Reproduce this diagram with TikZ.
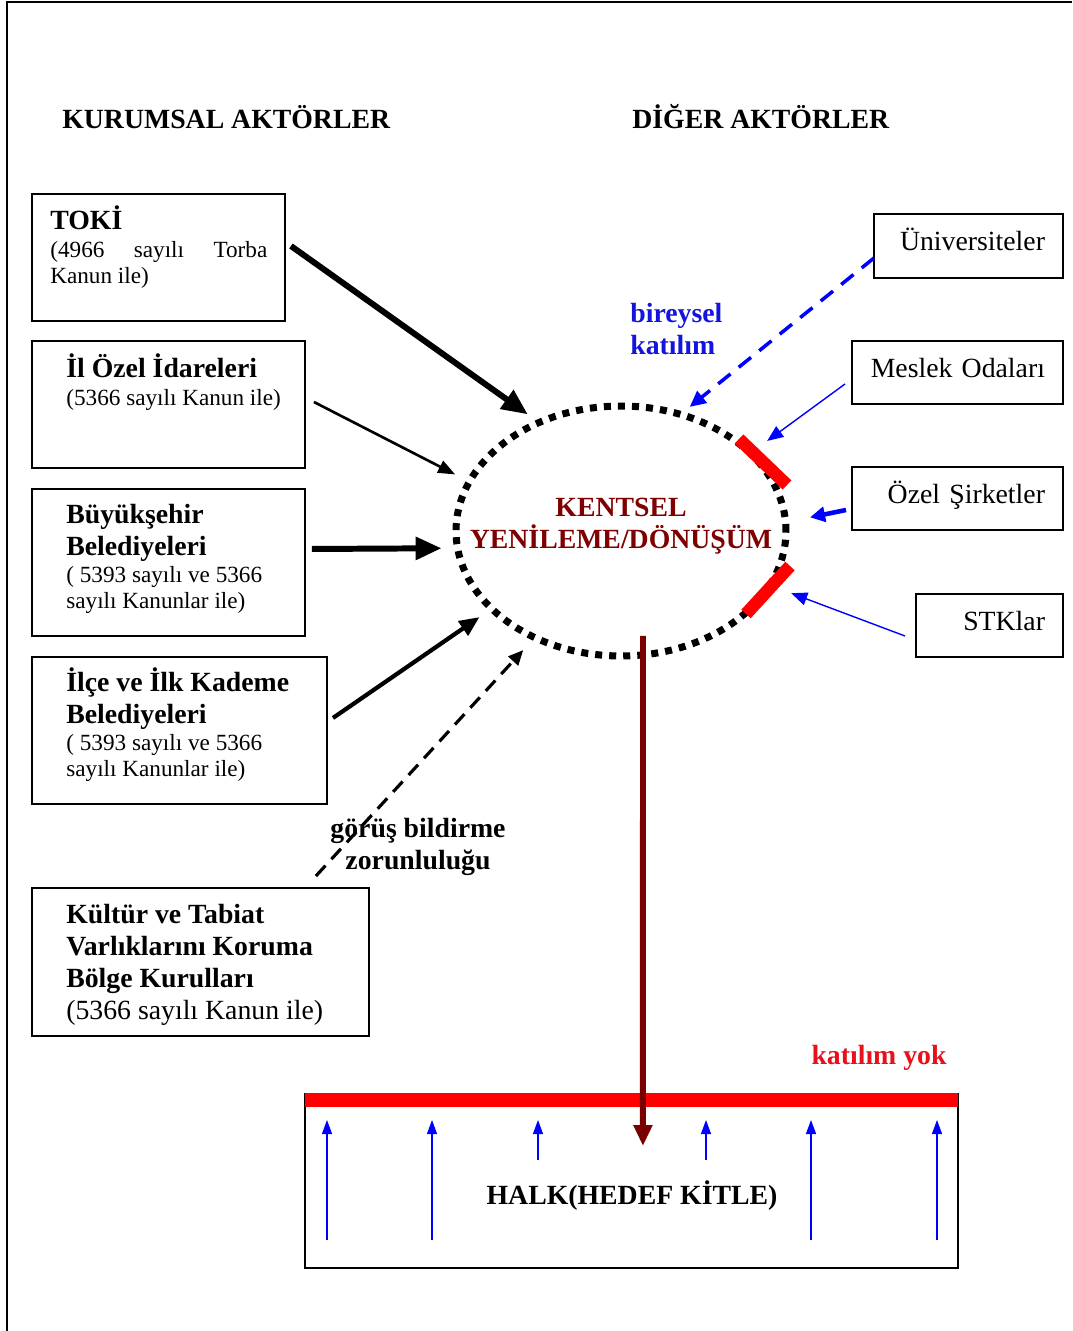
\documentclass[tikz,border=0pt]{standalone}
\usepackage{fontspec}
\setmainfont{Liberation Serif}
\usetikzlibrary{arrows.meta,calc,positioning,shapes.geometric}
\definecolor{kentred}{HTML}{7F0000}
\definecolor{arrowred}{HTML}{7A0000}
\definecolor{halkred}{HTML}{FF0000}
\definecolor{yokred}{HTML}{E8101A}
\definecolor{actorblue}{HTML}{0000FF}
\definecolor{labelblue}{HTML}{1414DC}
\tikzset{
  frameline/.style={line width=1.2pt,black},
  actorbox/.style={draw,line width=1.4pt,anchor=north west,inner sep=0pt,outer sep=0pt},
  sidebox/.style={draw,line width=1.4pt,anchor=north west,align=right,inner xsep=0.36cm,inner ysep=0pt,outer sep=0pt,text height=0.4cm,text depth=0.2cm,font=\fontsize{15.8}{18}\selectfont},
  heading/.style={font=\bfseries\fontsize{15.8}{18.1}\selectfont,inner sep=0pt},
  boxtitle/.style={font=\bfseries\fontsize{15.8}{18.1}\selectfont,align=left,anchor=base west,inner sep=0pt},
  boxbody/.style={font=\fontsize{13.2}{14.7}\selectfont,align=left,anchor=base west,inner sep=0pt},
  kentring/.style={ellipse,draw,line width=4pt,dash pattern=on 4pt off 4pt,inner sep=0pt,outer sep=0pt},
  kenttext/.style={font=\bfseries\fontsize{15.8}{18.1}\selectfont,text=kentred,align=center,inner sep=0pt},
  ringbar/.style={line width=7.2pt,halkred},
  halkbar/.style={line width=8pt,halkred},
  bigflow/.style={-{Triangle[length=0.52cm,width=0.44cm]},line width=3.4pt},
  medflow/.style={-{Triangle[length=0.4cm,width=0.34cm]},line width=2.4pt},
  thinflow/.style={-{Triangle[length=0.34cm,width=0.26cm]},line width=1.5pt},
  dashflow/.style={-{Triangle[length=0.3cm,width=0.26cm]},line width=1.8pt,dash pattern=on 8pt off 5pt},
  bluedash/.style={-{Triangle[length=0.32cm,width=0.3cm]},line width=2pt,dash pattern=on 9pt off 6pt,actorblue},
  bluethin/.style={-{Triangle[length=0.32cm,width=0.26cm]},line width=0.8pt,actorblue},
  bluethick/.style={-{Triangle[length=0.3cm,width=0.3cm]},line width=2.6pt,actorblue},
  downflow/.style={-{Triangle[length=0.42cm,width=0.36cm]},line width=3.4pt,arrowred},
  upflow/.style={-{Triangle[length=0.28cm,width=0.2cm]},line width=0.7pt,actorblue},
  bluelabel/.style={font=\bfseries\fontsize{15.8}{18.1}\selectfont,text=labelblue,align=left,anchor=base west,inner sep=0pt},
  notelabel/.style={font=\bfseries\fontsize{15.8}{18.1}\selectfont,align=center,anchor=base,inner sep=0pt},
  redlabel/.style={font=\bfseries\fontsize{15.8}{18.1}\selectfont,text=yokred,anchor=base,inner sep=0pt}
}
\begin{document}
\begin{tikzpicture}[x=0.02cm,y=-0.02cm]
  \useasboundingbox (0,0) rectangle (1072,1331);
  \draw[frameline] (7,1331) -- (7,2) -- (1072,2);

  \node[heading,anchor=base west] (kurumsal) at (62,129) {KURUMSAL AKTÖRLER};
  \node[heading,anchor=base west] (diger) at (632,129) {DİĞER AKTÖRLER};

  \node[actorbox,minimum width=5.06cm,minimum height=2.54cm] (toki) at (32,194) {};
  \node[boxtitle] (tokititle) at (50,230) {TOKİ};
  \node[boxbody] (tokibody) at (50,283) {\makebox[4.34cm][s]{(4966 sayılı Torba}\\Kanun ile)};

  \node[actorbox,minimum width=5.46cm,minimum height=2.54cm] (ozelidare) at (32,341) {};
  \node[boxtitle] (ozelidaretitle) at (66,377) {İl Özel İdareleri};
  \node[boxbody] (ozelidarebody) at (66,405) {(5366 sayılı Kanun ile)};

  \node[actorbox,minimum width=5.46cm,minimum height=2.94cm] (buyuksehir) at (32,489) {};
  \node[boxtitle] (buyuksehirtitle) at (66,555) {Büyükşehir\\Belediyeleri};
  \node[boxbody] (buyuksehirbody) at (66,608) {( 5393 sayılı ve 5366\\sayılı Kanunlar ile)};

  \node[actorbox,minimum width=5.9cm,minimum height=2.94cm] (ilce) at (32,657) {};
  \node[boxtitle] (ilcetitle) at (66,723) {İlçe ve İlk Kademe\\Belediyeleri};
  \node[boxbody] (ilcebody) at (66,776) {( 5393 sayılı ve 5366\\sayılı Kanunlar ile)};

  \node[actorbox,minimum width=6.74cm,minimum height=2.96cm] (kurul) at (32,888) {};
  \node[boxtitle] (kurultitle) at (66,1019) {Kültür ve Tabiat\\Varlıklarını Koruma\\Bölge Kurulları\\\mdseries(5366 sayılı Kanun ile)};

  \node[sidebox,text width=3.06cm,minimum height=1.28cm] (univ) at (874,214) {Üniversiteler};
  \node[sidebox,text width=3.5cm,minimum height=1.26cm] (meslek) at (852,341) {Meslek Odaları};
  \node[sidebox,text width=3.5cm,minimum height=1.26cm] (sirket) at (852,467) {Özel Şirketler};
  \node[sidebox,text width=2.22cm,minimum height=1.26cm] (stk) at (916,594) {STKlar};

  \node[kentring,minimum width=6.6cm,minimum height=5cm] (ell) at (621,531) {};
  \node[kenttext] (kent) at (621,526) {KENTSEL\\YENİLEME/DÖNÜŞÜM};
  \draw[ringbar] (739,439) -- (787,485);
  \draw[ringbar] (790,566) -- (746,614);

  \draw[bigflow,shorten >=0.28cm] ([shift={(6,-11.5)}]toki.east) -- (ell.127);
  \draw[thinflow,shorten >=0.32cm] ([shift={(9,-2.5)}]ozelidare.east) -- (ell.162);
  \draw[bigflow,shorten >=0.32cm] ([shift={(7,-13.5)}]buyuksehir.east) -- (ell.186);
  \draw[medflow,shorten >=0.3cm] ([shift={(6,-12.5)}]ilce.east) -- (ell.211);
  \draw[dashflow,shorten >=0.34cm] ([shift={(-53,-12)}]kurul.north east) -- (ell.231);

  \draw[bluedash,shorten >=0.24cm] ([shift={(0,12)}]univ.west) -- (ell.63);
  \draw[bluethin,shorten >=0.42cm] ([shift={(-7,11.5)}]meslek.west) -- (ell.31);
  \draw[bluethick,shorten >=0.5cm] ([shift={(-6,11.5)}]sirket.west) -- (ell.3);
  \draw[bluethin,shorten >=0.46cm] ([shift={(-11,10.5)}]stk.west) -- (ell.340);

  \node[bluelabel] (bireysel) at (630,354) {bireysel\\katılım};
  \node[notelabel] (gorus) at (418,869) {görüş bildirme\\zorunluluğu};

  \node[actorbox,minimum width=13.06cm,minimum height=3.48cm] (halk) at (305,1094) {};
  \node[heading] (halktext) at (632,1196) {HALK(HEDEF KİTLE)};
  \draw[halkbar] ([shift={(0,6)}]halk.north west) -- ([shift={(0,6)}]halk.north east);
  \node[redlabel] (yok) at (879,1064) {katılım yok};
  \foreach \dx/\dy in {22/146,127/146,233/66,401/66,506/146,632/146}
    \draw[upflow] ([shift={(\dx,\dy)}]halk.north west) -- ([shift={(\dx,26)}]halk.north west);

  \draw[downflow] ([shift={(22,-20)}]ell.south) -- ([shift={(11.5,52)}]halk.north);
\end{tikzpicture}
\end{document}
